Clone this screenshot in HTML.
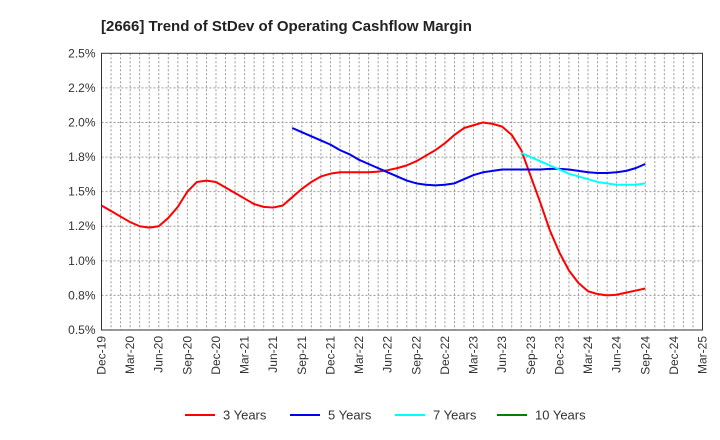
<!DOCTYPE html>
<html><head><meta charset="utf-8"><style>
body{margin:0;background:#fff;}
svg{display:block;font-family:"Liberation Sans",Arial,sans-serif;}
</style></head><body>
<svg id="chart" width="720" height="440">
<text x="101" y="31" font-size="15" font-weight="bold" fill="#222">[2666]  Trend of StDev of Operating Cashflow Margin</text>
<g id="grid"></g><g id="axes"></g><g id="series"></g><g id="legend"></g>
</svg>
<script>
const xLabels=["Dec-19","Mar-20","Jun-20","Sep-20","Dec-20","Mar-21","Jun-21","Sep-21","Dec-21","Mar-22","Jun-22","Sep-22","Dec-22","Mar-23","Jun-23","Sep-23","Dec-23","Mar-24","Jun-24","Sep-24","Dec-24","Mar-25"];
const yTicks=[0.5,0.75,1.0,1.25,1.5,1.75,2.0,2.25,2.5];
const yLabels=["0.5%","0.8%","1.0%","1.2%","1.5%","1.8%","2.0%","2.2%","2.5%"];
const series3Start=0;
const series3=[1.40,1.36,1.32,1.28,1.25,1.24,1.25,1.31,1.39,1.50,1.57,1.58,1.57,1.53,1.49,1.45,1.41,1.39,1.385,1.40,1.46,1.52,1.57,1.61,1.63,1.64,1.64,1.64,1.64,1.645,1.655,1.67,1.69,1.72,1.76,1.80,1.85,1.91,1.96,1.98,2.00,1.99,1.97,1.91,1.80,1.61,1.42,1.22,1.06,0.93,0.84,0.78,0.76,0.75,0.755,0.77,0.785,0.80];
const series5Start=20;
const series5=[1.96,1.93,1.90,1.87,1.84,1.80,1.77,1.73,1.70,1.67,1.64,1.61,1.58,1.56,1.55,1.545,1.55,1.56,1.59,1.62,1.64,1.65,1.66,1.66,1.66,1.66,1.66,1.665,1.665,1.66,1.65,1.64,1.635,1.635,1.64,1.65,1.67,1.70];
const series7Start=44;
const series7=[1.78,1.75,1.72,1.69,1.66,1.63,1.61,1.59,1.57,1.56,1.55,1.55,1.55,1.56];
const series10=[];
const NS="http://www.w3.org/2000/svg";
const L=101.5,R=702.5,T=53.3,B=330,NM=63;
function xs(m){return L+(R-L)*m/NM;}
function ys(v){return B-(v-0.5)/2*(B-T);}
function mk(tag,attrs,parent){const e=document.createElementNS(NS,tag);for(const k in attrs)e.setAttribute(k,attrs[k]);parent.appendChild(e);return e;}
const grid=document.getElementById('grid'),axes=document.getElementById('axes'),ser=document.getElementById('series'),leg=document.getElementById('legend');
for(let m=1;m<NM;m++){const l=mk('line',{x1:xs(m),x2:xs(m),y1:T,y2:B,stroke:'#999','stroke-dasharray':'2,2','stroke-width':1},grid);

}
yTicks.forEach((v,i)=>{if(i>0&&i<yTicks.length-1){const l=mk('line',{x1:L,x2:R,y1:ys(v),y2:ys(v),stroke:'#999','stroke-dasharray':'2,2','stroke-width':1},grid);

}
const t=mk('text',{x:L-6,y:ys(v)+4,'text-anchor':'end','font-size':12,fill:'#333'},axes);t.textContent=yLabels[i];

});
xLabels.forEach((s,i)=>{const x=xs(i*3);const t=mk('text',{x:0,y:0,transform:`translate(${x+4},${B+6}) rotate(-90)`,'text-anchor':'end','font-size':12,fill:'#333'},axes);t.textContent=s;

});
const frame=mk('rect',{x:L,y:T,width:R-L,height:B-T,fill:'none',stroke:'#333','stroke-width':1},axes);


function line(vals,start,color,name){if(!vals.length)return;const p=mk('polyline',{points:vals.map((v,i)=>xs(start+i)+','+ys(v)).join(' '),fill:'none',stroke:color,'stroke-width':2,'stroke-linejoin':'round'},ser);

}
line(series3,series3Start,'#ff0000','line-3-years');
line(series5,series5Start,'#0000ee','line-5-years');
line(series7,series7Start,'#00ffff','line-7-years');
line(series10,0,'#008000','line-10-years');
const legItems=[["3 Years","#ff0000",185],["5 Years","#0000ee",290],["7 Years","#00ffff",395],["10 Years","#008000",497]];
legItems.forEach(it=>{const g=mk('g',{},leg);


mk('line',{x1:it[2],x2:it[2]+30,y1:415,y2:415,stroke:it[1],'stroke-width':2},g);
const t=mk('text',{x:it[2]+38,y:419.5,'font-size':13,fill:'#333'},g);t.textContent=it[0];});
</script>
</body></html>
